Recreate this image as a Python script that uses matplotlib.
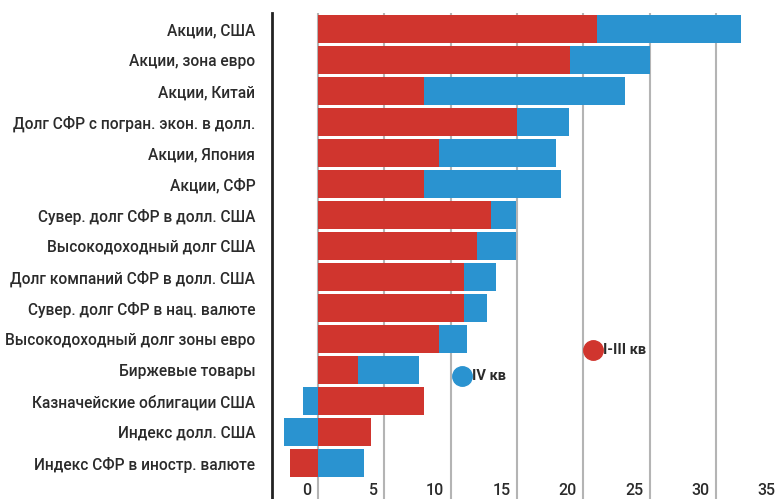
import matplotlib
matplotlib.use("Agg")
import matplotlib.pyplot as plt

plt.rcParams["font.family"] = ["Roboto", "DejaVu Sans"]

labels = [
    "Акции, США",
    "Акции, зона евро",
    "Акции, Китай",
    "Долг СФР с погран. экон. в долл.",
    "Акции, Япония",
    "Акции, СФР",
    "Сувер. долг СФР в долл. США",
    "Высокодоходный долг США",
    "Долг компаний СФР в долл. США",
    "Сувер. долг СФР в нац. валюте",
    "Высокодоходный долг зоны евро",
    "Биржевые товары",
    "Казначейские облигации США",
    "Индекс долл. США",
    "Индекс СФР в иностр. валюте",
]
# I-III quarters (red) and full year incl. IV quarter (blue)
q1_3 = [21.0, 19.0, 8.0, 15.0, 9.1, 8.0, 13.0, 12.0, 11.0, 11.0, 9.1, 3.0, 8.0, 4.0, -2.1]
full_year = [31.9, 25.0, 23.1, 18.9, 17.9, 18.3, 14.9, 14.9, 13.4, 12.7, 11.2, 7.6, -1.1, -2.6, 3.5]
xticks = [0, 5, 10, 15, 20, 25, 30, 35]

red = "#d0352e"
blue = "#2a93d0"
txt = "#2b2b2b"

fig = plt.figure(figsize=(7.79, 4.99), dpi=100)
ax = fig.add_axes([272 / 779, 0, 1 - 272 / 779, 1 - 13 / 499])

rows = list(range(len(labels)))
for v in xticks:
    ax.axvline(v, color="#b4b4b4", lw=1.5, zorder=0)

ax.barh(rows, full_year, height=0.9, color=blue, zorder=2)
ax.barh(rows, q1_3, height=0.9, color=red, zorder=3)

ax.set_xlim(-3.47, 34.74)
ax.set_ylim(15.16, -0.516)

ax.set_xticks([])
ax.set_yticks(rows)
ax.set_yticklabels(labels, fontsize=11.2, color=txt, fontweight="medium")
ax.tick_params(axis="y", length=0, pad=12)
for s in ["top", "right", "bottom"]:
    ax.spines[s].set_visible(False)
ax.spines["left"].set_linewidth(2)
ax.spines["left"].set_color("#222222")

for v in xticks:
    ax.text(v - 0.5, 14.87, str(v), ha="right", va="center", fontsize=11.5,
            color=txt, fontweight="medium", clip_on=False)

# legend markers
ax.plot(20.7, 10.35, "o", ms=14, color=red, zorder=4)
ax.text(21.45, 10.35, "I-III кв", va="center", fontsize=10.5, color=txt, fontweight="bold")
ax.plot(10.85, 11.2, "o", ms=14, color=blue, zorder=4)
ax.text(11.6, 11.2, "IV кв", va="center", fontsize=10.5, color=txt, fontweight="bold")

fig.savefig("out.png", dpi=100)
